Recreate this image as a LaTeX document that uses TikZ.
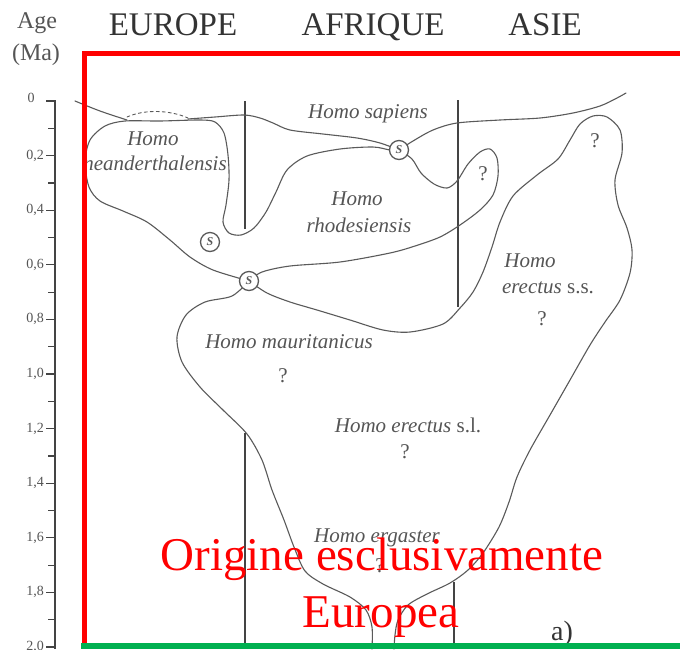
\documentclass[tikz,border=0pt]{standalone}
\usepackage{fontspec}
\setmainfont{Liberation Serif}
\definecolor{linegray}{HTML}{5A5A5A}
\definecolor{darkline}{HTML}{444444}
\definecolor{textgray}{HTML}{555555}
\definecolor{headgray}{HTML}{333333}
\definecolor{framered}{HTML}{FF0000}
\definecolor{framegreen}{HTML}{00B050}
\begin{document}
\begin{tikzpicture}[x=1pt,y=-1pt,
  outline/.style={draw=linegray, line width=1.1pt, line join=round, line cap=round},
  vline/.style={draw=darkline, line width=1.6pt},
  species/.style={text=textgray, font=\fontsize{21}{23}\selectfont\itshape, inner sep=0, anchor=base},
  qmark/.style={text=textgray, font=\fontsize{21}{23}\selectfont, inner sep=0, anchor=base},
  header/.style={text=headgray, font=\fontsize{33}{36}\selectfont, inner sep=0, anchor=base},
  agelab/.style={text=textgray, font=\fontsize{24}{26}\selectfont, inner sep=0, anchor=base},
  ticklab/.style={text=textgray, font=\fontsize{14}{15}\selectfont, inner sep=0, anchor=east},
  snode/.style={circle, draw=linegray, line width=1.3pt, fill=white, minimum size=19pt, inner sep=0, text=linegray, font=\fontsize{12}{12}\selectfont\itshape\bfseries},
  redtext/.style={text=framered, font=\fontsize{47}{50}\selectfont, inner sep=0, anchor=base}
]
\useasboundingbox (0,0) rectangle (680,649);
\fill[white] (0,0) rectangle (680,649);

% ---------- headers ----------
\node[agelab] (age) at (37,28) {Age};
\node[agelab] (ma) at (36,60) {(Ma)};
\node[header] (eur) at (173,35) {EUROPE};
\node[header] (afr) at (373,35) {AFRIQUE};
\node[header] (asi) at (545,35) {ASIE};

% ---------- age axis ----------
\draw[draw=darkline, line width=1.6pt] (55,100) -- (55,649);
\foreach \k in {0,...,10} {
  \draw[draw=darkline, line width=1.2pt] (46,{101+54.6*\k}) -- (55,{101+54.6*\k});
}
\foreach \k in {0,...,9} {
  \draw[draw=darkline, line width=1.2pt] (48,{128.3+54.6*\k}) -- (55,{128.3+54.6*\k});
}
\node[text=textgray, font=\fontsize{14}{15}\selectfont, inner sep=0] (t0) at (31,98) {0};
\foreach \k/\t in {1/{0,2},2/{0,4},3/{0,6},4/{0,8},5/{1,0},6/{1,2},7/{1,4},8/{1,6},9/{1,8},10/{2,0}} {
  \node[ticklab] at (44,{101+54.6*\k}) {\t};
}

% ---------- key points ----------
\coordinate (pA) at (399,150);
\coordinate (pB) at (249,281);
\coordinate (pC) at (210,242);

% ---------- region boundaries (vertical) ----------
\draw[vline] (245,101) -- (245,229);
\draw[vline] (458,100) -- (458,307);
\draw[vline] (245,433) -- (245,649);
\draw[vline] (454,582) -- (454,649);

% ---------- present-day line and sapiens arms ----------
\draw[outline] plot[smooth] coordinates {(75,101) (100,111) (127,120)};
\draw[outline, dashed, line width=0.9pt] (127,117) .. controls (145,109) and (170,110) .. (188,118);
\draw[outline] plot[smooth] coordinates {(188,119) (215,117) (244,115) (260,118) (273,123) (290,130) (323,134) (357,138) (380,143) (pA)};
\draw[outline] plot[smooth] coordinates {(pA) (413,141) (433,130) (457,123) (500,120) (540,118) (573,113) (600,106) (617,98) (626,93)};

% ---------- Neanderthal + rhodesiensis upper ----------
\draw[outline] plot[smooth] coordinates {(pB) (213,270) (190,257) (170,240) (147,222) (123,211) (100,201) (89,187) (85,162) (90,140) (105,126) (125,121) (160,121) (200,120) (215,122) (224,133) (228,155) (229,180) (226,205) (223,222) (229,233) (241,235) (254,228) (266,212) (276,192) (287,170) (307,156) (340,149) (373,147) (390,150) (pA)};

% ---------- rhodesiensis right lobe + lower ----------
\draw[outline] plot[smooth] coordinates {(pA) (412,159) (421,173) (434,184) (447,188) (457,181) (468,164) (480,152) (490,149) (497,158) (498,176) (493,195) (480,210) (460,225) (440,237) (415,246) (390,253) (340,262) (290,266) (262,272) (pB)};

% ---------- erectus right side ----------
\draw[outline] plot[smooth] coordinates {(pB) (267,293) (290,302) (317,310) (350,320) (383,330) (410,332) (443,324) (460,308) (473,292) (483,272) (492,247) (500,222) (513,196) (537,175) (558,159) (570,140) (580,124) (593,116) (607,117) (620,130) (622,153) (615,180) (618,205) (627,228) (632,250) (630,273) (620,300) (605,322) (590,345) (570,380) (550,415) (530,450) (517,477) (509,502) (499,527) (483,553) (468,570) (450,583) (427,594) (408,605) (398,620) (395,635) (394,649)};

% ---------- erectus left side ----------
\draw[outline] plot[smooth] coordinates {(pB) (232,296) (205,302) (186,315) (177,337) (182,362) (200,387) (223,410) (247,434) (262,460) (272,490) (284,520) (294,547) (305,571) (323,584) (350,597) (366,610) (372,627) (372,649)};

% ---------- speciation nodes ----------
\node[snode] (sA) at (pA) {S};
\node[snode] (sB) at (pB) {S};
\node[snode] (sC) at (pC) {S};

% ---------- species labels ----------
\node[species] (sap) at (368,118) {Homo sapiens};
\node[species] (nea1) at (153,145) {Homo};
\node[species] (nea2) at (155,170) {neanderthalensis};
\node[species] (rho1) at (357,205) {Homo};
\node[species] (rho2) at (359,232) {rhodesiensis};
\node[qmark] (q1) at (483,180) {?};
\node[qmark] (q2) at (595,147) {?};
\node[species] (ess1) at (530,267) {Homo};
\node[species] (ess2) at (548,293) {erectus \upshape s.s.};
\node[qmark] (q3) at (542,325) {?};
\node[species] (mau) at (289,348) {Homo mauritanicus};
\node[qmark] (q4) at (283,382) {?};
\node[species] (esl) at (408,432) {Homo erectus \upshape s.l.};
\node[qmark] (q5) at (405,458) {?};
\node[species] (erg) at (377,542) {Homo ergaster};
\node[qmark] (q6) at (380,572) {?};
\node[text=headgray, font=\fontsize{28}{30}\selectfont, inner sep=0, anchor=base] (pa) at (562,640) {a)};

% ---------- red frame and overlay ----------
\draw[draw=framered, line width=5pt] (84,646) -- (84,53) -- (690,53);
\draw[draw=framegreen, line width=5.5pt] (81,646) -- (690,646);
\node[redtext] (r1) at (382,570) {Origine esclusivamente};
\node[redtext] (r2) at (381,627) {Europea};
\end{tikzpicture}
\end{document}
